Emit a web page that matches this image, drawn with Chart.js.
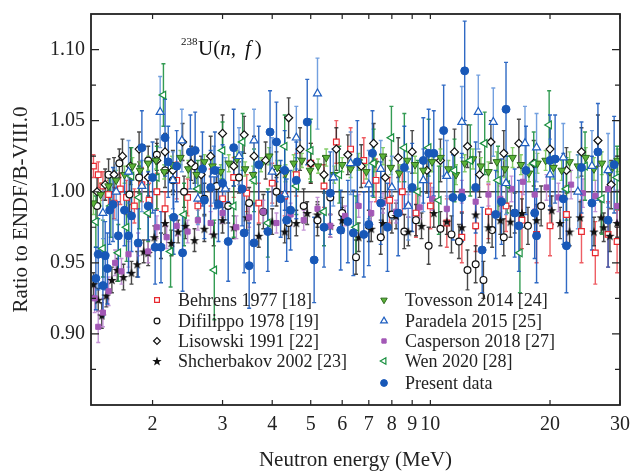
<!DOCTYPE html>
<html>
<head>
<meta charset="utf-8">
<script src="https://cdn.jsdelivr.net/npm/chart.js@4.4.1/dist/chart.umd.min.js"></script>
<style>
html, body { margin: 0; padding: 0; background: #fff; }
#wrap { width: 633px; height: 473px; position: relative; }
</style>
</head>
<body>
<div id="wrap"><canvas id="myChart"></canvas></div>
<script>
// axis ticks
var xTicks = [2, 3, 4, 5, 6, 7, 8, 9, 10, 20, 30];
var yTicks = [0.90, 0.95, 1.00, 1.05, 1.10];
var yMinor = [0.875, 0.925, 0.975, 1.025, 1.075];

// Behrens 1977
var behrensE = [1.42,1.46,1.5,1.55,1.6,1.66,1.72,1.8,1.88,1.96,
  2.05,2.15,2.3,2.45,2.6,2.8,3.0,3.2,3.45,3.7,
  4.0,4.3,4.6,5.0,5.4,5.8,6.3,6.8,7.3,7.9,
  8.5,9.2,10,11,12,13,14,15.5,17,18.5,
  20,22,24,26,28,29.5];
var behrensR = [1.018,1.012,1.004,0.998,0.992,1.002,0.996,0.990,1.005,0.994,
  1.000,0.988,1.008,0.996,0.990,1.003,0.995,1.010,0.999,0.992,
  1.006,0.997,1.012,1.020,1.004,1.035,1.030,1.022,1.008,0.994,
  1.000,0.985,0.990,0.978,0.968,0.976,0.986,0.990,0.980,0.970,
  0.976,0.984,0.972,0.957,0.970,0.965];
var behrensErr = [0.008,0.009,0.010,0.010,0.011,0.011,0.012,0.012,0.012,0.012,
  0.013,0.012,0.013,0.013,0.012,0.013,0.013,0.014,0.013,0.014,
  0.014,0.014,0.015,0.014,0.015,0.015,0.015,0.016,0.015,0.016,
  0.016,0.017,0.016,0.017,0.018,0.018,0.019,0.018,0.020,0.020,
  0.021,0.020,0.022,0.022,0.023,0.022];

// Difilippo 1978
var difilE = [1.45,1.55,1.65,1.75,1.85,1.95,2.05,2.15,2.25,2.4,
  2.55,2.7,2.9,3.1,3.3,3.5,3.8,4.1,4.4,4.8,
  5.2,5.6,6.0,6.5,7.0,7.5,8.0,8.6,9.2,9.9,
  10.6,11.3,11.8,12.4,13.0,13.6,14.3,15.3,16.3,17.6,
  19.0];
var difilR = [0.990,1.012,1.020,0.998,1.010,1.022,1.026,1.015,1.008,1.000,
  1.018,0.995,1.004,0.990,1.010,0.992,0.986,1.000,0.978,0.990,
  0.980,0.996,0.985,0.954,0.976,0.968,0.984,0.972,0.980,0.962,
  0.974,0.970,0.965,0.945,0.949,0.938,0.973,0.968,0.985,0.976,
  0.990];
var difilErr = [0.010,0.011,0.010,0.012,0.011,0.010,0.011,0.012,0.010,0.011,
  0.012,0.011,0.010,0.012,0.011,0.011,0.012,0.010,0.011,0.012,
  0.011,0.012,0.011,0.012,0.011,0.012,0.013,0.012,0.011,0.013,
  0.012,0.013,0.012,0.014,0.013,0.013,0.012,0.013,0.014,0.013,
  0.014];

// Lisowski 1991
var lisowskiE = [1.45,1.52,1.6,1.68,1.76,1.85,1.95,2.05,2.15,2.25,
  2.38,2.5,2.65,2.8,3.0,3.2,3.4,3.6,3.85,4.1,
  4.4,4.7,5.0,5.4,5.8,6.2,6.7,7.2,7.7,8.3,
  9.0,9.8,10.6,11.5,12.4,13.3,14.2,15.3,16.7,18.2,
  20,22,24,26.4,28.5];
var lisowskiR = [1.000,1.005,1.012,1.025,1.018,1.030,1.010,1.022,1.028,1.015,
  1.035,1.020,1.012,1.025,1.041,1.018,1.040,1.025,1.022,1.014,
  1.052,1.030,1.020,1.012,1.030,1.026,1.018,1.034,1.010,1.024,
  1.028,1.015,1.022,1.028,1.032,1.012,1.035,1.027,1.034,1.020,
  1.030,1.015,1.028,1.036,1.005];
var lisowskiErr = [0.010,0.011,0.012,0.012,0.013,0.012,0.013,0.012,0.013,0.014,
  0.013,0.012,0.013,0.014,0.013,0.014,0.013,0.014,0.013,0.014,
  0.014,0.015,0.014,0.013,0.015,0.014,0.015,0.014,0.015,0.014,
  0.015,0.016,0.015,0.016,0.015,0.016,0.015,0.016,0.017,0.016,
  0.017,0.016,0.017,0.018,0.017];

// Shcherbakov 2002
var shcherE = [1.42,1.46,1.49,1.53,1.58,1.63,1.69,1.77,1.83,1.9,
  1.95,2.02,2.1,2.15,2.23,2.32,2.42,2.55,2.7,2.85,
  3.0,3.2,3.45,3.7,4.0,4.3,4.6,4.9,5.2,5.6,
  6.0,6.6,7.1,7.6,8.2,8.8,9.5,10.2,11,12,
  13,14,15,15.9,17,18.5,20.2,21.2,22.4,23.8,
  25.8,26.9,27.3,28.3,29.5];
var shcherR = [0.935,0.924,0.913,0.927,0.938,0.945,0.940,0.943,0.949,0.958,
  0.957,0.968,0.962,0.978,0.964,0.972,0.976,0.966,0.974,0.970,
  0.980,0.975,0.982,0.969,0.979,0.972,0.978,0.985,0.984,0.976,
  0.980,0.968,0.974,0.978,0.983,0.972,0.976,0.985,0.979,0.975,
  0.984,0.975,0.980,0.979,0.985,0.980,0.987,0.978,0.972,0.982,
  0.972,0.982,0.975,0.969,0.978];
var shcherErr = [0.008,0.008,0.009,0.008,0.009,0.008,0.009,0.008,0.009,0.008,
  0.009,0.008,0.009,0.008,0.009,0.008,0.009,0.008,0.009,0.008,
  0.009,0.008,0.009,0.008,0.009,0.008,0.009,0.008,0.009,0.008,
  0.009,0.010,0.009,0.010,0.009,0.010,0.009,0.010,0.009,0.010,
  0.010,0.011,0.010,0.011,0.010,0.011,0.010,0.011,0.010,0.011,
  0.010,0.011,0.010,0.011,0.010];

// Tovesson 2014
var tovessonE = [1.42,1.48,1.55,1.62,1.7,1.78,1.86,1.95,2.04,2.14,
  2.24,2.35,2.46,2.58,2.7,2.83,2.97,3.11,3.26,3.42,
  3.58,3.75,3.93,4.12,4.32,4.53,4.75,4.98,5.22,5.47,
  5.73,6.0,6.3,6.6,6.9,7.25,7.6,7.95,8.35,8.75,
  9.15,9.6,10.1,10.6,11.1,11.6,12.2,12.8,13.4,14.0,
  14.7,15.4,16.1,16.9,17.7,18.6,19.5,20.4,21.4,22.4,
  23.5,24.6,25.8,27.0,28.3,29.6];
var tovessonR = [0.992,0.998,1.004,1.008,1.012,1.018,1.015,1.020,1.022,1.014,
  1.019,1.024,1.016,1.012,1.021,1.018,1.014,1.020,1.023,1.016,
  1.012,1.019,1.025,1.017,1.013,1.020,1.022,1.015,1.018,1.024,
  1.012,1.019,1.016,1.021,1.014,1.020,1.025,1.017,1.013,1.022,
  1.019,1.015,1.021,1.024,1.016,1.012,1.020,1.023,1.018,1.014,
  1.021,1.016,1.024,1.019,1.013,1.020,1.022,1.017,1.015,1.021,
  1.018,1.024,1.016,1.020,1.014,1.022];
var tovessonErr = [0.008,0.008,0.007,0.007,0.006,0.006,0.006,0.005,0.006,0.005,
  0.006,0.005,0.006,0.006,0.005,0.006,0.005,0.006,0.006,0.005,
  0.006,0.005,0.006,0.005,0.006,0.006,0.005,0.006,0.005,0.006,
  0.006,0.005,0.006,0.006,0.005,0.006,0.006,0.005,0.006,0.006,
  0.006,0.006,0.007,0.006,0.006,0.007,0.006,0.007,0.006,0.007,
  0.007,0.006,0.007,0.007,0.006,0.007,0.007,0.008,0.007,0.007,
  0.008,0.007,0.008,0.008,0.007,0.008];

// Paradela 2015
var paradelaE = [1.5,1.62,1.74,1.88,2.09,2.25,2.37,2.6,2.85,3.05,
  3.3,3.6,4.0,4.3,4.6,5.2,5.7,6.3,7.0,7.5,
  8.0,8.8,9.6,11.0,12.0,13.2,14.4,15.5,17.3,18.5,
  20.0,21.6,23.5,25.5,28.0];
var paradelaR = [0.985,1.000,1.014,1.004,1.056,1.008,1.036,0.995,1.012,1.002,
  1.025,1.036,1.014,0.998,1.038,1.069,1.010,1.020,1.005,1.016,
  1.003,0.990,1.008,1.011,1.049,1.056,1.049,1.006,1.034,1.031,
  1.012,1.024,1.000,1.018,1.015];
var paradelaErr = [0.018,0.020,0.022,0.018,0.025,0.020,0.022,0.018,0.020,0.022,
  0.020,0.022,0.024,0.020,0.022,0.025,0.020,0.022,0.024,0.020,
  0.022,0.024,0.022,0.025,0.025,0.026,0.024,0.022,0.026,0.024,
  0.025,0.024,0.026,0.025,0.026];

// Casperson 2018
var caspersonE = [1.43,1.46,1.5,1.55,1.61,1.67,1.74,1.84,1.95,2.05,
  2.17,2.3,2.45,2.6,2.8,3.0,3.25,3.5,3.8,4.1,
  4.45,4.8,5.2,5.6,6.1,6.6,7.1,7.6,8.2,8.8,
  9.4,10.1,11,12,13,14,15,16,17.1,18.3,
  19.6,21,22.6,24.2,26,28,29.5];
var caspersonR = [0.925,0.905,0.915,0.930,0.950,0.944,0.956,0.963,0.958,0.975,
  0.968,0.976,0.972,0.980,0.978,0.985,0.975,0.982,0.986,0.978,
  0.984,0.980,0.988,0.976,0.983,0.990,0.985,0.992,0.986,0.990,
  0.989,0.995,0.988,1.000,0.993,0.998,0.995,1.002,1.007,0.998,
  1.003,0.996,1.005,0.999,0.997,1.002,0.990];
var caspersonErr = [0.010,0.011,0.010,0.010,0.009,0.009,0.009,0.008,0.008,0.008,
  0.008,0.007,0.008,0.007,0.008,0.007,0.008,0.007,0.008,0.007,
  0.008,0.007,0.008,0.008,0.007,0.008,0.008,0.007,0.008,0.008,
  0.008,0.008,0.009,0.008,0.009,0.008,0.009,0.009,0.009,0.010,
  0.009,0.010,0.010,0.010,0.011,0.010,0.011];

// Wen 2020
var wenE = [1.44,1.5,1.57,1.64,1.72,1.77,1.85,1.95,2.05,2.13,
  2.22,2.4,2.6,2.86,3.0,3.2,3.37,3.6,3.9,4.3,
  4.6,5.0,5.4,5.9,6.5,7.2,7.98,8.6,9.3,9.9,
  10.5,11.5,12.6,13.7,14.8,15.6,16.8,18.2,19.9,22,
  24.5,27,29.5];
var wenR = [0.979,0.960,0.990,0.957,0.975,1.011,0.996,0.985,1.010,1.068,
  0.958,0.984,1.002,0.945,1.029,0.990,1.035,1.008,0.978,1.032,
  1.004,1.029,0.986,1.012,0.975,1.020,1.038,1.031,1.000,1.031,
  0.994,1.015,1.022,1.034,1.008,1.005,0.957,1.020,1.047,1.002,
  1.018,0.995,1.010];
var wenErr = [0.018,0.020,0.022,0.020,0.024,0.020,0.022,0.020,0.022,0.022,
  0.025,0.022,0.020,0.035,0.020,0.022,0.020,0.022,0.024,0.022,
  0.020,0.022,0.024,0.020,0.022,0.024,0.022,0.024,0.022,0.020,
  0.024,0.022,0.025,0.022,0.024,0.020,0.028,0.022,0.024,0.022,
  0.024,0.025,0.022];

// Present data
var presentE = [1.44,1.46,1.50,1.52,1.54,1.56,1.59,1.64,1.70,1.74,
  1.77,1.84,1.88,1.95,2.00,2.03,2.10,2.15,2.19,2.26,
  2.30,2.38,2.49,2.56,2.67,2.70,2.80,2.87,2.93,3.00,
  3.10,3.20,3.36,3.40,3.50,3.60,3.70,3.90,3.95,4.10,
  4.20,4.30,4.35,4.45,4.60,4.90,5.10,5.40,5.60,5.95,
  6.20,6.40,6.55,6.80,7.00,7.15,7.50,7.80,8.30,8.60,
  9.00,9.60,9.90,10.2,10.8,11.4,12.0,12.2,13.0,13.5,
  14.6,15.1,15.5,16.3,16.7,17.4,18.3,18.5,20.0,20.6,
  21.6,22.0,24.0,25.5,26.4,28.0,29.0];
var presentR = [0.939,0.956,0.934,0.955,0.946,0.987,0.991,0.969,0.987,0.969,
  0.983,0.964,1.031,0.990,1.010,0.961,0.961,1.038,1.021,0.982,
  1.018,0.957,1.028,1.029,1.016,0.994,1.003,1.015,0.991,1.006,
  0.965,1.031,1.002,0.971,0.948,0.964,1.019,0.972,1.042,1.035,
  0.995,1.015,0.980,0.987,1.008,1.049,0.952,0.975,0.999,0.973,
  0.979,0.971,1.021,0.970,0.977,1.027,0.992,0.975,0.985,1.017,
  1.003,1.022,1.027,1.027,1.043,0.996,0.996,1.085,1.003,0.959,
  0.984,0.993,1.058,0.985,0.976,1.015,0.985,0.969,1.022,1.023,
  0.995,0.962,1.017,0.992,1.028,0.980,1.019];
var presentErr = [0.022,0.025,0.022,0.024,0.025,0.024,0.026,0.024,0.025,0.026,
  0.025,0.024,0.026,0.024,0.025,0.026,0.025,0.027,0.025,0.026,
  0.025,0.027,0.026,0.027,0.026,0.027,0.026,0.027,0.026,0.027,
  0.028,0.027,0.026,0.028,0.030,0.028,0.027,0.028,0.029,0.028,
  0.027,0.028,0.029,0.028,0.027,0.030,0.030,0.028,0.029,0.028,
  0.029,0.030,0.029,0.030,0.029,0.030,0.029,0.031,0.030,0.029,
  0.031,0.030,0.031,0.030,0.032,0.030,0.031,0.035,0.032,0.030,
  0.031,0.030,0.033,0.031,0.032,0.031,0.032,0.033,0.032,0.031,
  0.032,0.033,0.032,0.033,0.034,0.033,0.034];

var serif = "'Liberation Serif', 'Times New Roman', serif";
Chart.defaults.font.family = serif;
Chart.defaults.color = '#222';

function pts(E, R) {
  return E.map(function (e, i) { return { x: e, y: R[i] }; });
}

// filled star marker
function starMarker(size, color) {
  var c = document.createElement('canvas');
  c.width = size; c.height = size;
  var g = c.getContext('2d');
  g.fillStyle = color;
  g.beginPath();
  for (var k = 0; k < 10; k++) {
    var r = k % 2 ? size * 0.2 : size * 0.5;
    var a = -Math.PI / 2 + k * Math.PI / 5;
    g.lineTo(size / 2 + r * Math.cos(a), size / 2 + r * Math.sin(a) + size * 0.05);
  }
  g.closePath();
  g.fill();
  return c;
}

var datasets = [
  { label: 'Behrens 1977 [18]', data: pts(behrensE, behrensR), err: behrensErr, barColor: 'rgba(232,40,48,0.75)',
    pointStyle: 'rect', pointRadius: 4, borderColor: '#e8282f', backgroundColor: '#fff', borderWidth: 1.2, order: 8 },
  { label: 'Difilippo 1978 [19]', data: pts(difilE, difilR), err: difilErr, barColor: 'rgba(40,40,40,0.85)',
    pointStyle: 'circle', pointRadius: 3.4, borderColor: '#111', backgroundColor: '#fff', borderWidth: 1.2, order: 7 },
  { label: 'Lisowski 1991 [22]', data: pts(lisowskiE, lisowskiR), err: lisowskiErr, barColor: 'rgba(40,40,40,0.85)',
    pointStyle: 'rectRot', pointRadius: 4, borderColor: '#111', backgroundColor: '#fff', borderWidth: 1.2, order: 6 },
  { label: 'Shcherbakov 2002 [23]', data: pts(shcherE, shcherR), err: shcherErr, barColor: 'rgba(40,40,40,0.85)',
    pointStyle: starMarker(10, '#111'), pointRadius: 4, borderColor: '#111', backgroundColor: '#111', borderWidth: 0, order: 5 },
  { label: 'Tovesson 2014 [24]', data: pts(tovessonE, tovessonR), err: tovessonErr, barColor: 'rgba(120,200,90,0.9)',
    pointStyle: 'triangle', rotation: 180, pointRadius: 4.4, borderColor: '#2d6a1e', backgroundColor: '#5cb338', borderWidth: 1, order: 3 },
  { label: 'Paradela 2015 [25]', data: pts(paradelaE, paradelaR), err: paradelaErr, barColor: 'rgba(100,150,220,0.9)',
    pointStyle: 'triangle', pointRadius: 4.6, borderColor: '#1f5fc0', backgroundColor: '#fff', borderWidth: 1.2, order: 1 },
  { label: 'Casperson 2018 [27]', data: pts(caspersonE, caspersonR), err: caspersonErr, barColor: 'rgba(190,135,210,0.9)',
    pointStyle: 'rect', pointRadius: 3.6, borderColor: '#a358b6', backgroundColor: '#a358b6', borderWidth: 1, order: 4 },
  { label: 'Wen 2020 [28]', data: pts(wenE, wenR), err: wenErr, barColor: 'rgba(30,145,65,0.9)',
    pointStyle: 'triangle', rotation: 270, pointRadius: 4.4, borderColor: '#1a9040', backgroundColor: '#fff', borderWidth: 1.2, order: 2 },
  { label: 'Present data', data: pts(presentE, presentR), err: presentErr, barColor: 'rgba(25,90,190,0.9)',
    pointStyle: 'circle', pointRadius: 4, borderColor: '#1858b8', backgroundColor: '#1858b8', borderWidth: 1, order: 0 }
];

var decor = {
  id: 'decor',
  beforeDatasetsDraw: function (chart) {
    var ctx = chart.ctx, a = chart.chartArea, xs = chart.scales.x, ys = chart.scales.y;
    ctx.save();
    ctx.beginPath();
    ctx.rect(a.left, a.top, a.right - a.left, a.bottom - a.top);
    ctx.clip();
    // reference line at 1.00
    var y1 = ys.getPixelForValue(1);
    ctx.strokeStyle = '#444';
    ctx.lineWidth = 1.6;
    ctx.beginPath(); ctx.moveTo(a.left, y1); ctx.lineTo(a.right, y1); ctx.stroke();
    // error bars, drawn in the same order as the markers
    var list = chart.data.datasets.slice().sort(function (p, q) { return q.order - p.order; });
    list.forEach(function (ds) {
      ctx.strokeStyle = ds.barColor;
      ctx.lineWidth = 1.4;
      ds.data.forEach(function (p, j) {
        var px = xs.getPixelForValue(p.x);
        var lo = ys.getPixelForValue(p.y - ds.err[j]);
        var hi = ys.getPixelForValue(p.y + ds.err[j]);
        ctx.beginPath();
        ctx.moveTo(px, lo); ctx.lineTo(px, hi);
        ctx.moveTo(px - 2, lo); ctx.lineTo(px + 2, lo);
        ctx.moveTo(px - 2, hi); ctx.lineTo(px + 2, hi);
        ctx.stroke();
      });
    });
    ctx.restore();
  },
  afterDraw: function (chart) {
    var ctx = chart.ctx, a = chart.chartArea, xs = chart.scales.x, ys = chart.scales.y;
    ctx.save();
    // frame
    ctx.strokeStyle = '#222';
    ctx.lineWidth = 1.8;
    ctx.strokeRect(a.left, a.top, a.right - a.left, a.bottom - a.top);
    // inward ticks
    ctx.lineWidth = 1.2;
    ctx.beginPath();
    xTicks.forEach(function (v) {
      var px = xs.getPixelForValue(v);
      ctx.moveTo(px, a.bottom); ctx.lineTo(px, a.bottom - 5);
      ctx.moveTo(px, a.top); ctx.lineTo(px, a.top + 5);
    });
    yTicks.forEach(function (v) {
      var py = ys.getPixelForValue(v);
      ctx.moveTo(a.left, py); ctx.lineTo(a.left + 8, py);
      ctx.moveTo(a.right, py); ctx.lineTo(a.right - 8, py);
    });
    yMinor.forEach(function (v) {
      var py = ys.getPixelForValue(v);
      ctx.moveTo(a.left, py); ctx.lineTo(a.left + 5, py);
      ctx.moveTo(a.right, py); ctx.lineTo(a.right - 5, py);
    });
    ctx.stroke();

    // reaction label 238U(n, f)
    ctx.fillStyle = '#111';
    ctx.textBaseline = 'alphabetic';
    ctx.textAlign = 'left';
    var tx = 181, by = 55;
    ctx.font = '11px ' + serif;
    ctx.fillText('238', tx, 45);
    tx += ctx.measureText('238').width + 0.5;
    ctx.font = '21px ' + serif;
    ctx.fillText('U(', tx, by); tx += ctx.measureText('U(').width;
    ctx.font = 'italic 21px ' + serif;
    ctx.fillText('n', tx, by); tx += ctx.measureText('n').width;
    ctx.font = '21px ' + serif;
    ctx.fillText(',', tx, by); tx += ctx.measureText(',').width + 9;
    ctx.font = 'italic 21px ' + serif;
    ctx.fillText('f', tx, by); tx += ctx.measureText('f').width + 4;
    ctx.font = '21px ' + serif;
    ctx.fillText(')', tx, by);

    // legend
    var spots = [[157, 300], [157, 321], [157, 341], [157, 361],
                 [384, 300], [384, 321], [384, 341], [384, 361], [384, 383]];
    ctx.font = '18px ' + serif;
    ctx.textBaseline = 'middle';
    chart.data.datasets.forEach(function (ds, i) {
      var s = spots[i];
      ctx.fillStyle = ds.backgroundColor;
      ctx.strokeStyle = ds.borderColor;
      ctx.lineWidth = ds.borderWidth;
      Chart.helpers.drawPoint(ctx, {
        pointStyle: ds.pointStyle, rotation: ds.rotation || 0,
        radius: ds.pointRadius * 0.85, borderWidth: ds.borderWidth
      }, s[0], s[1]);
      ctx.fillStyle = '#222';
      ctx.fillText(ds.label, s[0] + 21, s[1] + 1);
    });
    ctx.restore();
  }
};

new Chart('myChart', {
  type: 'scatter',
  data: { datasets: datasets },
  options: {
    responsive: true,
    maintainAspectRatio: false,
    animation: false,
    events: [],
    layout: { padding: { left: 0, right: 13, top: 14, bottom: 0 } },
    plugins: { legend: { display: false }, tooltip: { enabled: false } },
    scales: {
      x: {
        type: 'logarithmic',
        min: 1.4, max: 30,
        grid: { display: false, drawTicks: false },
        border: { display: false },
        afterBuildTicks: function (s) { s.ticks = xTicks.map(function (v) { return { value: v }; }); },
        afterFit: function (s) { s.height = 68; s.paddingRight = 0; },
        ticks: {
          autoSkip: false, maxRotation: 0, padding: 8,
          font: { size: 20 }, color: '#222',
          callback: function (v) { return String(v); }
        },
        title: { display: true, text: 'Neutron energy (MeV)', font: { size: 21 }, color: '#222', padding: { top: 0, bottom: 0 } }
      },
      y: {
        min: 0.85, max: 1.125,
        grid: { display: false, drawTicks: false },
        border: { display: false },
        afterBuildTicks: function (s) { s.ticks = yTicks.map(function (v) { return { value: v }; }); },
        afterFit: function (s) { s.width = 91; s.paddingTop = 0; s.paddingBottom = 0; },
        ticks: {
          padding: 6, font: { size: 20 }, color: '#222',
          callback: function (v) { return Number(v).toFixed(2); }
        },
        title: { display: true, text: 'Ratio to ENDF/B-VIII.0', font: { size: 21 }, color: '#222', padding: { top: 9, bottom: 0 } }
      }
    }
  },
  plugins: [decor]
});
</script>
</body>
</html>
